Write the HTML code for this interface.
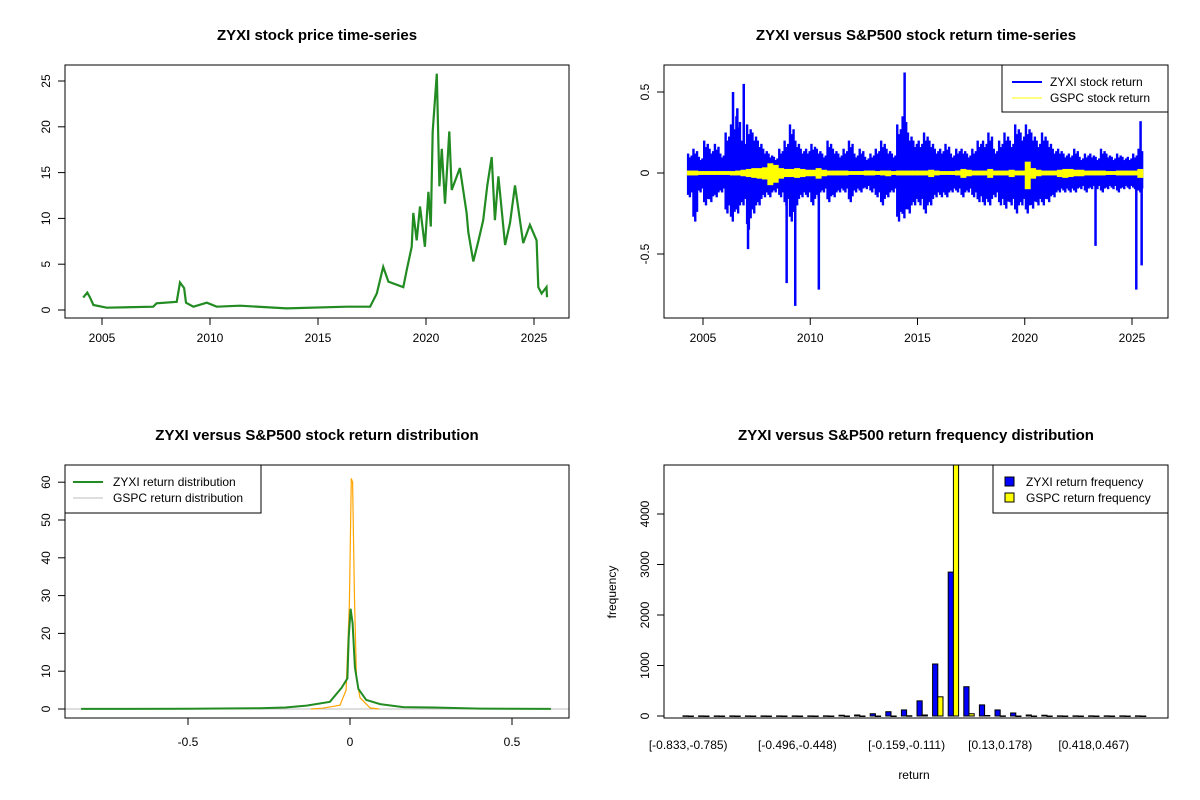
<!DOCTYPE html>
<html><head><meta charset="utf-8"><style>
body{margin:0;background:#fff}
svg{font-family:"Liberation Sans",Arial,sans-serif;display:block}
</style></head><body>
<svg id="c" width="1200" height="800" xmlns="http://www.w3.org/2000/svg">
<defs>
<clipPath id="cp1"><rect x="65" y="65" width="504" height="253"/></clipPath>
<clipPath id="cp2"><rect x="664" y="65" width="504" height="253"/></clipPath>
<clipPath id="cp3"><rect x="65" y="465" width="504" height="253"/></clipPath>
<clipPath id="cp4"><rect x="664" y="465" width="504" height="253"/></clipPath>
</defs>
</svg>
<script>
// ---- Panel 1: price ----
const priceYears=[2004.13,2004.32,2004.44,2004.6,2005.22,2007.37,2007.53,2008.46,2008.61,2008.8,2008.89,2009.23,2009.85,2010.31,2011.39,2013.55,2016.33,2017.41,2017.72,2018.02,2018.26,2018.95,2019.11,2019.34,2019.41,2019.57,2019.72,2019.95,2020.11,2020.22,2020.31,2020.5,2020.62,2020.73,2020.88,2021.08,2021.19,2021.57,2021.88,2021.96,2022.19,2022.42,2022.65,2022.84,2023.04,2023.19,2023.35,2023.66,2023.89,2024.12,2024.5,2024.81,2025.12,2025.2,2025.35,2025.58,2025.6];
const priceValues=[1.35,1.9,1.4,0.55,0.25,0.36,0.73,0.9,3.0,2.4,0.8,0.36,0.8,0.36,0.47,0.18,0.36,0.36,1.8,4.7,3.1,2.5,4.4,6.9,10.6,7.6,11.3,6.9,12.9,9.1,19.5,25.8,13.5,17.6,11.6,19.5,13.1,15.5,10.6,8.5,5.3,7.5,9.8,13.6,16.7,9.8,14.6,7.1,9.5,13.6,7.3,9.3,7.6,2.5,1.8,2.5,1.4];
const priceTicks=[0,5,10,15,20,25];
const yearTicks=[2005,2010,2015,2020,2025];
// ---- Panel 2: returns (quarterly envelope) ----
const retStart=2004.25, retStep=0.25;
const zyxiHigh=[.12,.15,.1,.2,.15,.18,.12,.25,.3,.35,.2,.3,.25,.2,.15,.12,.1,.15,.2,.3,.2,.15,.15,.18,.15,.12,.2,.15,.12,.15,.2,.12,.15,.1,.12,.15,.2,.15,.12,.3,.35,.25,.2,.2,.25,.2,.15,.15,.18,.12,.15,.15,.12,.15,.2,.2,.25,.15,.2,.25,.2,.3,.25,.3,.25,.2,.25,.2,.15,.15,.12,.12,.15,.1,.12,.12,.1,.15,.12,.1,.12,.1,.1,.12,.15];
const zyxiLow=[-.15,-.3,-.12,-.2,-.18,-.15,-.12,-.25,-.3,-.25,-.2,-.35,-.25,-.2,-.15,-.15,-.12,-.15,-.2,-.3,-.2,-.15,-.15,-.2,-.15,-.12,-.18,-.15,-.12,-.12,-.18,-.12,-.12,-.1,-.12,-.15,-.2,-.15,-.12,-.3,-.28,-.25,-.2,-.2,-.25,-.2,-.15,-.15,-.15,-.12,-.12,-.15,-.12,-.15,-.18,-.2,-.2,-.15,-.2,-.22,-.2,-.25,-.2,-.25,-.22,-.2,-.2,-.18,-.15,-.12,-.12,-.12,-.12,-.1,-.12,-.1,-.1,-.12,-.1,-.1,-.12,-.1,-.1,-.1,-.12];
const gspcHigh=[.015,.015,.012,.012,.012,.012,.012,.012,.012,.015,.02,.025,.03,.03,.035,.06,.05,.03,.025,.025,.03,.025,.02,.02,.03,.02,.015,.015,.015,.015,.012,.012,.012,.015,.015,.012,.015,.015,.012,.015,.015,.015,.015,.015,.015,.02,.015,.012,.012,.012,.015,.025,.02,.015,.015,.015,.025,.015,.015,.015,.02,.015,.015,.07,.03,.02,.015,.015,.015,.02,.025,.025,.02,.02,.015,.015,.015,.015,.012,.012,.015,.015,.015,.015,.025];
const gspcLow=[-.015,-.015,-.012,-.012,-.012,-.012,-.012,-.012,-.015,-.015,-.02,-.025,-.03,-.035,-.04,-.075,-.06,-.035,-.025,-.025,-.03,-.025,-.02,-.02,-.035,-.02,-.015,-.015,-.015,-.015,-.012,-.012,-.012,-.015,-.015,-.012,-.015,-.02,-.012,-.015,-.015,-.015,-.015,-.015,-.015,-.025,-.015,-.012,-.012,-.012,-.015,-.03,-.02,-.015,-.015,-.015,-.03,-.015,-.015,-.015,-.025,-.015,-.015,-.1,-.035,-.02,-.015,-.015,-.015,-.025,-.03,-.025,-.02,-.02,-.015,-.015,-.015,-.015,-.012,-.012,-.015,-.015,-.015,-.015,-.03];
const spikeYears=[2006.4,2006.6,2006.9,2007.1,2008.9,2009.3,2010.4,2014.4,2023.3,2025.2,2025.4,2025.45];
const spikeValues=[0.5,0.4,0.55,-0.47,-0.68,-0.82,-0.72,0.62,-0.45,-0.72,0.32,-0.57];
const retTicks=[-0.5,0,0.5];
// ---- Panel 3: densities ----
const zyxiDensX=[-0.83,-0.5,-0.28,-0.2,-0.134,-0.062,-0.026,-0.008,-0.004,0.002,0.008,0.015,0.026,0.05,0.093,0.164,0.26,0.4,0.62];
const zyxiDensY=[0.02,0.05,0.2,0.4,0.9,1.9,5.6,8.1,18.9,26.5,22.7,11,5.3,2.4,1.3,0.5,0.4,0.1,0.02];
const gspcDensX=[-0.12,-0.085,-0.031,-0.012,-0.002,0.004,0.008,0.014,0.02,0.031,0.062,0.09];
const gspcDensY=[0,0.2,1,5,28,61,60,29,8,3,0.3,0];
const densTicksX=[-0.5,0,0.5];
const densTicksY=[0,10,20,30,40,50,60];
// ---- Panel 4: histogram ----
const binLabels=["[-0.833,-0.785)","[-0.785,-0.737)","[-0.737,-0.689)","[-0.689,-0.641)","[-0.641,-0.592)","[-0.592,-0.544)","[-0.544,-0.496)","[-0.496,-0.448)","[-0.448,-0.4)","[-0.4,-0.352)","[-0.352,-0.303)","[-0.303,-0.255)","[-0.255,-0.207)","[-0.207,-0.159)","[-0.159,-0.111)","[-0.111,-0.0627)","[-0.0627,-0.0145)","[-0.0145,0.0336)","[0.0336,0.0818)","[0.0818,0.13)","[0.13,0.178)","[0.178,0.226)","[0.226,0.274)","[0.274,0.322)","[0.322,0.37)","[0.37,0.418)","[0.418,0.467)","[0.467,0.515)","[0.515,0.563)","[0.563,0.611)"];
const zyxiCounts=[3,2,2,2,2,2,2,2,2,3,15,20,45,85,120,300,1030,2850,580,220,120,60,20,15,3,3,3,3,3,3];
const gspcCounts=[0,0,0,0,0,0,0,0,0,0,0,0,0,0,5,20,380,5200,45,10,2,0,0,0,0,0,0,0,0,0];
const shownLabelIdx=[0,7,14,20,26];
const freqTicks=[0,1000,2000,3000,4000];

const svg=document.getElementById('c');
const NS='http://www.w3.org/2000/svg';
function mk(tag,attrs,parent){const e=document.createElementNS(NS,tag);for(const k in attrs)e.setAttribute(k,attrs[k]);(parent||svg).appendChild(e);return e;}
function txt(s,x,y,size,anchor,extra,parent){const e=mk('text',Object.assign({x:x,y:y,'font-size':size,'text-anchor':anchor||'middle',fill:'#000'},extra||{}),parent);e.textContent=s;return e;}

// Panel 1
const p1x=y=>102+(y-2005)*21.6, p1y=v=>310-v*9.16;
let g=mk('g',{});


let t=txt('ZYXI stock price time-series',317,40,15,'middle',{'font-weight':'bold'},g);


let pts=priceYears.map((y,i)=>p1x(y).toFixed(1)+','+p1y(priceValues[i]).toFixed(1)).join(' ');
let l=mk('polyline',{points:pts,fill:'none',stroke:'#228B22','stroke-width':2.2,'stroke-linejoin':'miter','clip-path':'url(#cp1)'},g);


priceTicks.forEach(v=>{mk('line',{x1:58,x2:65,y1:p1y(v),y2:p1y(v),stroke:'#000'},g);
 txt(String(v),46,p1y(v),12,'middle',{transform:`rotate(-90 46 ${p1y(v)})`,dy:'4'},g);});
yearTicks.forEach(y=>{mk('line',{x1:p1x(y),x2:p1x(y),y1:318,y2:325,stroke:'#000'},g);txt(String(y),p1x(y),342,12,'middle',{},g);});
mk('line',{x1:65,x2:65,y1:p1y(0),y2:p1y(25),stroke:'#000'},g);
mk('line',{x1:p1x(2005),x2:p1x(2025),y1:318,y2:318,stroke:'#000'},g);
let b=mk('rect',{x:65,y:65,width:504,height:253,fill:'none',stroke:'#000'},g);



// Panel 2
const p2x=y=>703+(y-2005)*21.45, p2y=v=>173-v*162;
g=mk('g',{'clip-path':'url(#cp2)'});


zyxiHigh.forEach((h,i)=>{const y0=retStart+i*retStep;
 for(let k=0;k<3;k++){const f=[1,0.8,0.9][k];const lo=zyxiLow[i]*[0.9,1,0.8][k];
  const r=mk('rect',{x:p2x(y0+k*retStep/3),y:p2y(h*f),width:retStep/3*21.45+0.6,height:p2y(lo)-p2y(h*f),fill:'#0000FF'},g);
  
  }});
spikeYears.forEach((y,i)=>{const v=spikeValues[i];const r=mk('line',{x1:p2x(y),x2:p2x(y),y1:p2y(0),y2:p2y(v),stroke:'#0000FF','stroke-width':2.5},g);
 
 });
gspcHigh.forEach((h,i)=>{const y0=retStart+i*retStep;
 const r=mk('rect',{x:p2x(y0),y:p2y(h),width:retStep*21.45+0.6,height:p2y(gspcLow[i])-p2y(h),fill:'#FFFF00'},g);
 
 });
g=mk('g',{});
t=txt('ZYXI versus S&P500 stock return time-series',916,40,15,'middle',{'font-weight':'bold'},g);


retTicks.forEach(v=>{mk('line',{x1:657,x2:664,y1:p2y(v),y2:p2y(v),stroke:'#000'},g);
 txt(String(v),645,p2y(v),12,'middle',{transform:`rotate(-90 645 ${p2y(v)})`,dy:'4'},g);});
mk('line',{x1:664,x2:664,y1:p2y(0.5),y2:p2y(-0.5),stroke:'#000'},g);
yearTicks.forEach(y=>{mk('line',{x1:p2x(y),x2:p2x(y),y1:318,y2:325,stroke:'#000'},g);txt(String(y),p2x(y),342,12,'middle',{},g);});
mk('line',{x1:p2x(2005),x2:p2x(2025),y1:318,y2:318,stroke:'#000'},g);
mk('rect',{x:664,y:65,width:504,height:253,fill:'none',stroke:'#000'},g);
let lg=mk('g',{});


mk('rect',{x:1002,y:65,width:166,height:47,fill:'#fff',stroke:'#000'},lg);
mk('line',{x1:1012,x2:1042,y1:82,y2:82,stroke:'#0000FF','stroke-width':2},lg);
mk('line',{x1:1012,x2:1042,y1:98,y2:98,stroke:'#FFFF00','stroke-width':1},lg);
txt('ZYXI stock return',1050,86,12,'start',{},lg);
txt('GSPC stock return',1050,102,12,'start',{},lg);

// Panel 3
const p3x=v=>350+v*324, p3y=v=>709-v*3.78;
g=mk('g',{});


t=txt('ZYXI versus S&P500 stock return distribution',317,440,15,'middle',{'font-weight':'bold'},g);


mk('line',{x1:65,x2:569,y1:p3y(0),y2:p3y(0),stroke:'#BEBEBE','clip-path':'url(#cp3)'},g);
l=mk('polyline',{points:gspcDensX.map((x,i)=>p3x(x).toFixed(1)+','+p3y(gspcDensY[i]).toFixed(1)).join(' '),fill:'none',stroke:'#FFA500','stroke-width':1.2,'clip-path':'url(#cp3)'},g);


l=mk('polyline',{points:zyxiDensX.map((x,i)=>p3x(x).toFixed(1)+','+p3y(zyxiDensY[i]).toFixed(1)).join(' '),fill:'none',stroke:'#228B22','stroke-width':2,'clip-path':'url(#cp3)'},g);


densTicksY.forEach(v=>{mk('line',{x1:58,x2:65,y1:p3y(v),y2:p3y(v),stroke:'#000'},g);
 txt(String(v),46,p3y(v),12,'middle',{transform:`rotate(-90 46 ${p3y(v)})`,dy:'4'},g);});
mk('line',{x1:65,x2:65,y1:p3y(0),y2:p3y(60),stroke:'#000'},g);
densTicksX.forEach(v=>{mk('line',{x1:p3x(v),x2:p3x(v),y1:718,y2:725,stroke:'#000'},g);txt(String(v),p3x(v),746,12,'middle',{},g);});
mk('line',{x1:p3x(-0.5),x2:p3x(0.5),y1:718,y2:718,stroke:'#000'},g);
mk('rect',{x:65,y:465,width:504,height:253,fill:'none',stroke:'#000'},g);
lg=mk('g',{});


mk('rect',{x:65,y:465,width:196,height:48,fill:'#fff',stroke:'#000'},lg);
mk('line',{x1:73,x2:103,y1:482,y2:482,stroke:'#228B22','stroke-width':2},lg);
mk('line',{x1:73,x2:103,y1:498,y2:498,stroke:'#BEBEBE','stroke-width':1},lg);
txt('ZYXI return distribution',113,486,12,'start',{},lg);
txt('GSPC return distribution',113,502,12,'start',{},lg);

// Panel 4
const unit=5.2, gx=i=>683+i*3*unit, p4y=v=>716-v*0.0505;
g=mk('g',{});


t=txt('ZYXI versus S&P500 return frequency distribution',916,440,15,'middle',{'font-weight':'bold'},g);


const bg=mk('g',{'clip-path':'url(#cp4)'},g);
zyxiCounts.forEach((c,i)=>{
 let r=mk('rect',{x:gx(i),y:p4y(c),width:unit,height:Math.max(p4y(0)-p4y(c),0.5),fill:'#0000FF',stroke:'#000','stroke-width':1},bg);
 
 
 r=mk('rect',{x:gx(i)+unit,y:p4y(gspcCounts[i]),width:unit,height:Math.max(p4y(0)-p4y(gspcCounts[i]),0.5),fill:'#FFFF00',stroke:'#000','stroke-width':1},bg);
 
 });
freqTicks.forEach(v=>{mk('line',{x1:657,x2:664,y1:p4y(v),y2:p4y(v),stroke:'#000'},g);
 txt(String(v),645,p4y(v),12,'middle',{transform:`rotate(-90 645 ${p4y(v)})`,dy:'4'},g);});
mk('line',{x1:664,x2:664,y1:p4y(0),y2:p4y(4000),stroke:'#000'},g);
shownLabelIdx.forEach(i=>{txt(binLabels[i],gx(i)+unit,749,12,'middle',{},g);});
txt('return',914,779,12,'middle',{},g);
txt('frequency',616,592,12,'middle',{transform:'rotate(-90 616 592)'},g);
mk('rect',{x:664,y:465,width:504,height:253,fill:'none',stroke:'#000'},g);
lg=mk('g',{});


mk('rect',{x:993,y:465,width:175,height:48,fill:'#fff',stroke:'#000'},lg);
mk('rect',{x:1005,y:477,width:9,height:9,fill:'#0000FF',stroke:'#000'},lg);
mk('rect',{x:1005,y:493,width:9,height:9,fill:'#FFFF00',stroke:'#000'},lg);
txt('ZYXI return frequency',1026,486,12,'start',{},lg);
txt('GSPC return frequency',1026,502,12,'start',{},lg);
</script>
</body></html>
